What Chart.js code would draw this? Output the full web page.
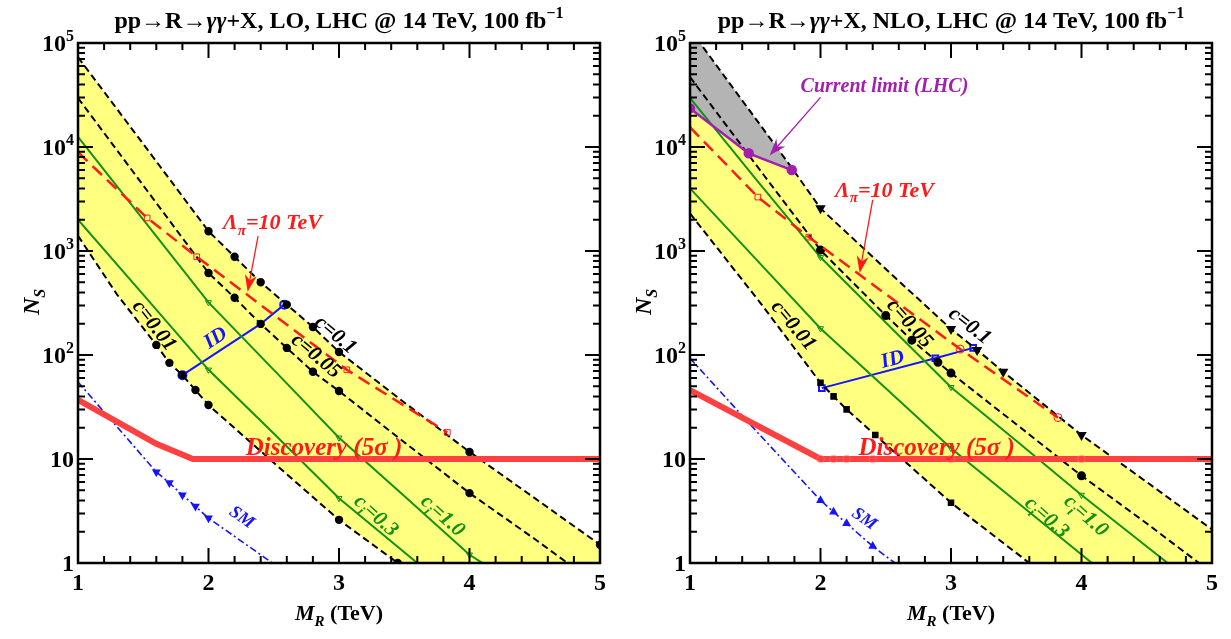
<!DOCTYPE html>
<html>
<head>
<meta charset="utf-8">
<title>N_S vs M_R</title>
<style>
  body { margin: 0; background: #fff; }
  canvas { position: absolute; top: 0; }
  #lo { left: 0; }
  #nlo { left: 612px; }
</style>
</head>
<body>
<canvas id="lo" width="612" height="639"></canvas>
<canvas id="nlo" width="619" height="639"></canvas>
<script src="https://cdn.jsdelivr.net/npm/chart.js"></script>
<script>
// ---- data (M_R in TeV, N_S events) ----
// LO panel
const loC01M = [1, 1.5, 2, 2.2, 2.4, 2.6, 2.8, 3, 3.5, 4, 4.5, 5];
const loC01N = [73000, 10700, 1550, 880, 500, 305, 186, 107, 35, 11.7, 4.2, 1.5];
const loC005M = [1, 1.5, 2, 2.2, 2.4, 2.6, 2.8, 3, 3.5, 4, 4.5, 4.75];
const loC005N = [29600, 4270, 615, 355, 199, 117, 69, 45, 14.5, 4.7, 1.7, 1.0];
const loC001M = [1, 1.3, 1.6, 1.7, 1.8, 1.9, 2, 2.5, 3, 3.45];
const loC001N = [1400, 380, 125, 84, 64, 46, 33, 9.2, 2.6, 1];
const loCi1M = [1, 1.5, 2, 2.5, 3, 3.5, 4, 4.1];
const loCi1N = [12500, 2000, 320, 72, 16, 4.4, 1.2, 1];
const loCi03M = [1, 1.5, 2, 2.5, 3, 3.6];
const loCi03N = [2000, 380, 72, 17.6, 4.2, 1];
const loLamM = [1, 1.53, 1.91, 3.06, 3.83];
const loLamN = [8900, 2080, 880, 72, 18];
const loIdM = [1.8, 2.4, 2.58];
const loIdN = [64, 199, 305];
const loSmM = [1, 1.6, 1.7, 1.8, 1.9, 2, 2.49];
const loSmN = [55, 7.5, 5.9, 4.5, 3.5, 2.7, 1];
const loDiscM = [1, 1.6, 1.88, 5];
const loDiscN = [37, 14, 10, 10];

// NLO panel
const nloC01M = [1, 1.78, 2, 2.5, 3, 3.2, 3.4, 4, 4.5, 5];
const nloC01N = [135000, 6300, 2570, 670, 178, 112, 69, 17, 6, 2.1];
const nloC005M = [1, 1.5, 2, 2.5, 2.7, 2.9, 3, 3.5, 4, 4.5, 4.9];
const nloC005N = [47000, 6900, 1020, 240, 139, 85, 67, 21.6, 6.9, 2.4, 1];
const nloC001M = [1, 1.54, 2, 2.1, 2.2, 2.42, 3, 3.6];
const nloC001N = [2300, 316, 54, 40, 30, 17, 3.8, 1];
const nloCi1M = [1, 1.5, 2, 2.5, 3, 3.5, 4, 4.66];
const nloCi1N = [29600, 5000, 870, 205, 49, 15, 4.5, 1];
const nloCi03M = [1, 1.5, 2, 2.5, 3, 3.5, 4.08];
const nloCi03N = [4000, 850, 180, 48, 12.7, 3.9, 1];
const nloLamM = [1, 1.52, 1.91, 3.07, 3.82];
const nloLamN = [15500, 3300, 1360, 114, 25];
const nloIdM = [2.01, 2.88, 3.17];
const nloIdN = [48, 93, 117];
const nloSmM = [1, 1.5, 2, 2.1, 2.2, 2.4, 2.57];
const nloSmN = [93, 19, 4.0, 3.1, 2.4, 1.45, 1];
const nloDiscM = [1, 2, 2.1, 2.2, 2.4, 3, 4, 5];
const nloDiscN = [46, 10, 10, 10, 10, 10, 10, 10];
const nloLimitM = [1, 1.45, 1.78];
const nloLimitN = [23500, 8700, 6000];

const xTicks = [1, 2, 3, 4, 5];
const yTicks = [1, 10, 100, 1000, 10000, 100000];

// ---- styles ----
const SERIF = '"Liberation Serif", "DejaVu Serif", serif';
const BLACK = '#000', GREEN = '#139113', RED = '#ff1a1a', DISC = '#ff4040';
const BLUE = '#1414ff', PURPLE = '#a31fb0', YELLOW = '#ffff80', GREY = '#b4b4b4';
const NONE = 'rgba(0,0,0,0)';

function series(M, N, o) {
  return Object.assign({
    data: M.map((m, i) => ({ x: m, y: N[i] })),
    fill: false, tension: 0, borderWidth: 2, pointRadius: 0, pointHoverRadius: 0, order: 5
  }, o);
}
// marker radius only on the listed masses
function at(M, list, r) {
  return M.map(m => list.some(v => Math.abs(v - m) < 1e-9) ? r : 0);
}

// rich text: *..* toggles italic, _x / ^x (or _{..} ^{..}) sub/superscript
function richParts(str, italic) {
  const parts = [];
  let buf = '', it = italic, i = 0;
  const flush = () => { if (buf) parts.push({ t: buf, s: 0, it }); buf = ''; };
  while (i < str.length) {
    const ch = str[i];
    if (ch === '*') { flush(); it = !it; i++; }
    else if (ch === '_' || ch === '^') {
      flush();
      let t;
      if (str[i + 1] === '{') { const j = str.indexOf('}', i); t = str.slice(i + 2, j); i = j + 1; }
      else { t = str[i + 1]; i += 2; }
      parts.push({ t, s: ch === '_' ? -1 : 1, it });
    } else { buf += ch; i++; }
  }
  flush();
  return parts;
}
function drawRich(ctx, str, x, y, o) {
  const size = o.size || 21, small = Math.round(size * 0.68);
  const parts = richParts(str, o.italic !== false);
  const font = p => `${p.it ? 'italic ' : ''}bold ${p.s ? small : size}px ${SERIF}`;
  let w = 0;
  parts.forEach(p => { ctx.font = font(p); p.w = ctx.measureText(p.t).width; w += p.w; });
  ctx.save();
  ctx.translate(x, y);
  ctx.rotate((o.angle || 0) * Math.PI / 180);
  ctx.fillStyle = o.color || BLACK;
  ctx.textAlign = 'left';
  ctx.textBaseline = 'alphabetic';
  let cx = o.align === 'left' ? 0 : o.align === 'right' ? -w : -w / 2;
  const base = o.baseline ? 0 : size * 0.33;
  parts.forEach(p => {
    ctx.font = font(p);
    const dy = p.s > 0 ? -size * 0.42 : p.s < 0 ? size * 0.25 : 0;
    ctx.fillText(p.t, cx, base + dy);
    cx += p.w;
  });
  ctx.restore();
}
function arrow(ctx, x1, y1, x2, y2, color) {
  const a = Math.atan2(y2 - y1, x2 - x1), L = 17, W = 6;
  const c = Math.cos(a), s = Math.sin(a);
  ctx.save();
  ctx.strokeStyle = color; ctx.fillStyle = color; ctx.lineWidth = 1.3;
  ctx.beginPath(); ctx.moveTo(x1, y1); ctx.lineTo(x2 - L * 0.7 * c, y2 - L * 0.7 * s); ctx.stroke();
  ctx.beginPath();
  ctx.moveTo(x2, y2);
  ctx.lineTo(x2 - L * c + W * s, y2 - L * s - W * c);
  ctx.lineTo(x2 - L * 0.7 * c, y2 - L * 0.7 * s);
  ctx.lineTo(x2 - L * c - W * s, y2 - L * s + W * c);
  ctx.closePath(); ctx.fill();
  ctx.restore();
}

const notesPlugin = {
  id: 'notes',
  afterDraw(chart, args, o) {
    const ctx = chart.ctx, a = chart.chartArea, xs = chart.scales.x, ys = chart.scales.y;
    // frame with inward ticks on all four sides
    ctx.save();
    ctx.strokeStyle = BLACK; ctx.lineWidth = 2;
    ctx.beginPath();
    for (let k = 0; k <= 20; k++) {
      const px = xs.getPixelForValue(1 + k * 0.2), L = k % 5 === 0 ? 15 : 7;
      ctx.moveTo(px, a.bottom); ctx.lineTo(px, a.bottom - L);
      ctx.moveTo(px, a.top); ctx.lineTo(px, a.top + L);
    }
    for (let e = 0; e < 5; e++) {
      for (let m = 1; m <= 9; m++) {
        const py = ys.getPixelForValue(m * Math.pow(10, e)), L = m === 1 ? 15 : 7;
        ctx.moveTo(a.left, py); ctx.lineTo(a.left + L, py);
        ctx.moveTo(a.right, py); ctx.lineTo(a.right - L, py);
      }
    }
    ctx.stroke();
    ctx.lineWidth = 2.5;
    ctx.strokeRect(a.left, a.top, a.right - a.left, a.bottom - a.top);
    ctx.restore();

    // y tick labels (powers of ten)
    ys.ticks.forEach(t => {
      const e = Math.round(Math.log10(t.value));
      const str = e === 0 ? '1' : e === 1 ? '10' : '10^' + e;
      drawRich(ctx, str, a.left - 4, ys.getPixelForValue(t.value), { size: 24, italic: false, align: 'right' });
    });

    // titles
    const cxm = (a.left + a.right) / 2;
    drawRich(ctx, o.title, cxm, 28, { size: 24, italic: false, baseline: true });
    drawRich(ctx, '*M_R* (TeV)', cxm, 620, { size: 22, italic: false, baseline: true });
    drawRich(ctx, '*N_S*', 31, 302, { size: 24, italic: false, angle: -90 });

    (o.arrows || []).forEach(r => {
      arrow(ctx, xs.getPixelForValue(r.from[0]), ys.getPixelForValue(r.from[1]),
        xs.getPixelForValue(r.to[0]), ys.getPixelForValue(r.to[1]), r.color);
    });
    (o.labels || []).forEach(l => {
      drawRich(ctx, l.text, xs.getPixelForValue(l.x), ys.getPixelForValue(l.y), l);
    });
  }
};

function makeChart(id, datasets, notes, padRight) {
  return new Chart(document.getElementById(id), {
    type: 'line',
    data: { datasets },
    options: {
      responsive: false,
      animation: false,
      events: [],
      layout: { padding: { top: 43, right: padRight, left: 0, bottom: 0 } },
      plugins: { legend: { display: false }, title: { display: false }, tooltip: { enabled: false }, notes },
      scales: {
        x: {
          type: 'linear', min: 1, max: 5,
          grid: { display: false }, border: { display: false },
          ticks: { padding: -2, color: BLACK, font: { family: SERIF, size: 24, weight: 'bold' } },
          afterBuildTicks: s => { s.ticks = xTicks.map(v => ({ value: v })); },
          afterFit: s => { s.height = 76; }
        },
        y: {
          type: 'logarithmic', min: 1, max: 1e5,
          grid: { display: false }, border: { display: false },
          ticks: { display: false },
          afterBuildTicks: s => { s.ticks = yTicks.map(v => ({ value: v })); },
          afterFit: s => { s.width = 78; }
        }
      }
    },
    plugins: [notesPlugin]
  });
}

const dashed = { borderColor: BLACK, borderDash: [7, 4], borderWidth: 2, pointBackgroundColor: BLACK, pointBorderColor: BLACK, order: 3 };
const green = { borderColor: GREEN, borderWidth: 2, pointStyle: 'triangle', pointRotation: 180, pointBackgroundColor: NONE, pointBorderColor: GREEN, pointBorderWidth: 1, order: 4 };
const lam = { borderColor: RED, borderDash: [13, 7], borderWidth: 2.5, pointBackgroundColor: NONE, pointBorderColor: RED, pointBorderWidth: 1, order: 2 };
const sm = { borderColor: BLUE, borderDash: [7, 3, 2, 3], borderWidth: 1.6, pointStyle: 'triangle', pointBackgroundColor: BLUE, pointBorderColor: BLUE, order: 4 };

makeChart('lo', [
  series(loC01M, loC01N, { borderWidth: 0, fill: 'start', backgroundColor: YELLOW, order: 30 }),
  series(loC001M, loC001N, { borderWidth: 0, fill: 'start', backgroundColor: '#fff', order: 29 }),
  series(loC01M, loC01N, { ...dashed, pointRadius: at(loC01M, [2, 2.2, 2.4, 2.6, 2.8, 3, 4, 5], 3.2) }),
  series(loC005M, loC005N, { ...dashed, pointRadius: at(loC005M, [2, 2.2, 2.4, 2.6, 2.8, 3, 4], 3.2) }),
  series(loC001M, loC001N, { ...dashed, pointRadius: at(loC001M, [1.6, 1.7, 1.8, 1.9, 2, 3, 3.45], 3.2) }),
  series(loCi1M, loCi1N, { ...green, pointRadius: at(loCi1M, [2, 3, 4], 3.5) }),
  series(loCi03M, loCi03N, { ...green, pointRadius: at(loCi03M, [2, 3], 3.5) }),
  series(loLamM, loLamN, { ...lam, pointStyle: 'rect', pointRadius: at(loLamM, [1.53, 1.91, 3.06, 3.83], 4) }),
  series(loIdM, loIdN, { borderColor: BLUE, borderWidth: 2, pointBackgroundColor: NONE, pointBorderColor: BLUE, pointRadius: at(loIdM, [1.8, 2.58], 4), order: 6 }),
  series(loSmM, loSmN, { ...sm, pointRotation: 180, pointRadius: at(loSmM, [1.6, 1.7, 1.8, 1.9, 2], 3.5) }),
  series(loDiscM, loDiscN, { borderColor: DISC, borderWidth: 6, order: 1 })
], {
  title: 'pp→R→*γγ*+X, LO, LHC @ 14 TeV, 100 fb^{−1}',
  labels: [
    { text: 'c=0.1', x: 2.98, y: 159, angle: 40 },
    { text: 'c=0.05', x: 2.83, y: 100, angle: 40 },
    { text: 'c=0.01', x: 1.59, y: 195, angle: 52 },
    { text: 'ID', x: 2.05, y: 149, angle: -33, color: BLUE },
    { text: 'SM', x: 2.26, y: 2.8, angle: 35, color: BLUE, size: 18 },
    { text: 'c_i=0.3', x: 3.29, y: 2.9, angle: 42, color: GREEN },
    { text: 'c_i=1.0', x: 3.80, y: 2.9, angle: 42, color: GREEN },
    { text: 'Discovery (5σ )', x: 2.885, y: 13, color: RED, size: 25 },
    { text: 'Λ_π=10 TeV', x: 2.49, y: 1900, color: RED, size: 22 }
  ],
  arrows: [{ from: [2.38, 1390], to: [2.30, 405], color: RED }]
}, 12);

makeChart('nlo', [
  series(nloC01M, nloC01N, { borderWidth: 0, fill: 'start', backgroundColor: YELLOW, order: 30 }),
  series(nloC001M, nloC001N, { borderWidth: 0, fill: 'start', backgroundColor: '#fff', order: 29 }),
  series(nloLimitM, nloLimitN, { borderWidth: 0, fill: 0, backgroundColor: GREY, order: 28 }),
  series(nloC01M, nloC01N, { ...dashed, pointStyle: 'triangle', pointRotation: 180, pointRadius: at(nloC01M, [2, 3, 3.2, 3.4, 4], 4) }),
  series(nloC005M, nloC005N, { ...dashed, pointRadius: at(nloC005M, [2, 2.5, 2.7, 2.9, 3, 4], 3.5) }),
  series(nloC001M, nloC001N, { ...dashed, pointStyle: 'rect', pointRadius: at(nloC001M, [2, 2.1, 2.2, 2.42, 3], 3.2) }),
  series(nloCi1M, nloCi1N, { ...green, pointRadius: at(nloCi1M, [2, 3, 4], 3.5) }),
  series(nloCi03M, nloCi03N, { ...green, pointRadius: at(nloCi03M, [2, 3], 3.5) }),
  series(nloLamM, nloLamN, { ...lam, pointStyle: ['circle', 'rect', 'rect', 'circle', 'circle'], pointRadius: at(nloLamM, [1.52, 1.91, 3.07, 3.82], 4) }),
  series(nloIdM, nloIdN, { borderColor: BLUE, borderWidth: 2, pointStyle: 'rect', pointBackgroundColor: NONE, pointBorderColor: BLUE, pointRadius: at(nloIdM, [2.01, 2.88, 3.17], 4), order: 6 }),
  series(nloSmM, nloSmN, { ...sm, pointRadius: at(nloSmM, [2, 2.1, 2.2, 2.4], 3.5) }),
  series(nloDiscM, nloDiscN, { borderColor: DISC, borderWidth: 6, pointBackgroundColor: NONE, pointBorderWidth: 1, pointBorderColor: 'rgba(255,110,110,0.6)', pointRadius: at(nloDiscM, [2, 2.1, 2.2, 2.4, 3, 4], 3.8), order: 1 }),
  series(nloLimitM, nloLimitN, { borderColor: PURPLE, borderWidth: 2.5, pointBackgroundColor: PURPLE, pointBorderColor: PURPLE, pointRadius: 4, order: 0 })
], {
  title: 'pp→R→*γγ*+X, NLO, LHC @ 14 TeV, 100 fb^{−1}',
  labels: [
    { text: 'c=0.1', x: 3.15, y: 195, angle: 38 },
    { text: 'c=0.05', x: 2.69, y: 204, angle: 48 },
    { text: 'c=0.01', x: 1.80, y: 195, angle: 50 },
    { text: 'ID', x: 2.55, y: 93, angle: -15, color: BLUE },
    { text: 'SM', x: 2.34, y: 2.7, angle: 35, color: BLUE, size: 18 },
    { text: 'c_i=0.3', x: 3.74, y: 2.8, angle: 42, color: GREEN },
    { text: 'c_i=1.0', x: 4.04, y: 2.9, angle: 42, color: GREEN },
    { text: 'Discovery (5σ )', x: 2.89, y: 13, color: RED, size: 25 },
    { text: 'Λ_π=10 TeV', x: 2.49, y: 3900, color: RED, size: 22 },
    { text: 'Current limit (LHC)', x: 2.49, y: 39500, color: PURPLE, size: 20 }
  ],
  arrows: [
    { from: [2.40, 3100], to: [2.30, 615], color: RED },
    { from: [2.0, 30000], to: [1.61, 8300], color: PURPLE }
  ]
}, 19);
</script>
</body>
</html>
